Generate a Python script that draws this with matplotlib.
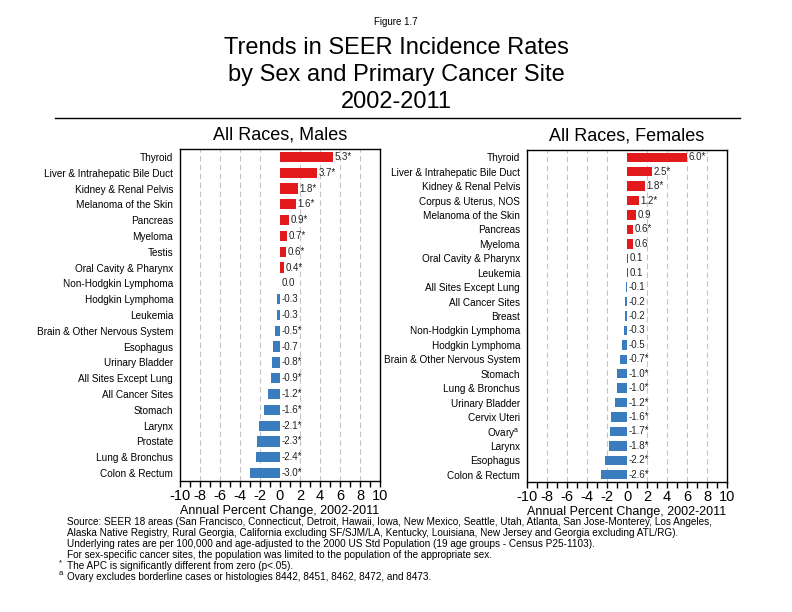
import numpy as np
import matplotlib
matplotlib.use("Agg")
import matplotlib.pyplot as plt
from matplotlib.ticker import MultipleLocator

plt.rcParams["font.family"] = ["Liberation Sans", "DejaVu Sans"]
plt.rcParams["mathtext.fontset"] = "custom"
plt.rcParams["mathtext.rm"] = "Liberation Sans"
plt.rcParams["mathtext.it"] = "Liberation Sans"
plt.rcParams["axes.unicode_minus"] = False

RED = "#e31a1c"
BLUE = "#3a7dbf"

# ── Males ──
male_sites = [
    "Thyroid", "Liver & Intrahepatic Bile Duct", "Kidney & Renal Pelvis",
    "Melanoma of the Skin", "Pancreas", "Myeloma", "Testis",
    "Oral Cavity & Pharynx", "Non-Hodgkin Lymphoma", "Hodgkin Lymphoma",
    "Leukemia", "Brain & Other Nervous System", "Esophagus",
    "Urinary Bladder", "All Sites Except Lung", "All Cancer Sites",
    "Stomach", "Larynx", "Prostate", "Lung & Bronchus", "Colon & Rectum",
]
male_apc = [5.3, 3.7, 1.8, 1.6, 0.9, 0.7, 0.6, 0.4, 0.0, -0.3, -0.3,
            -0.5, -0.7, -0.8, -0.9, -1.2, -1.6, -2.1, -2.3, -2.4, -3.0]
male_sig = [True, True, True, True, True, True, True, True, False, False,
            False, True, False, True, True, True, True, True, True, True, True]

# ── Females ──
female_sites = [
    "Thyroid", "Liver & Intrahepatic Bile Duct", "Kidney & Renal Pelvis",
    "Corpus & Uterus, NOS", "Melanoma of the Skin", "Pancreas", "Myeloma",
    "Oral Cavity & Pharynx", "Leukemia", "All Sites Except Lung",
    "All Cancer Sites", "Breast", "Non-Hodgkin Lymphoma", "Hodgkin Lymphoma",
    "Brain & Other Nervous System", "Stomach", "Lung & Bronchus",
    "Urinary Bladder", "Cervix Uteri", r"Ovary$^{\mathrm{a}}$", "Larynx",
    "Esophagus", "Colon & Rectum",
]
female_apc = [6.0, 2.5, 1.8, 1.2, 0.9, 0.6, 0.6, 0.1, 0.1, -0.1, -0.2,
              -0.2, -0.3, -0.5, -0.7, -1.0, -1.0, -1.2, -1.6, -1.7, -1.8,
              -2.2, -2.6]
female_sig = [True, True, True, True, False, True, False, False, False,
              False, False, False, False, False, True, True, True, True,
              True, True, True, True, True]

footnotes = [
    "Source: SEER 18 areas (San Francisco, Connecticut, Detroit, Hawaii, Iowa, New Mexico, Seattle, Utah, Atlanta, San Jose-Monterey, Los Angeles,",
    "Alaska Native Registry, Rural Georgia, California excluding SF/SJM/LA, Kentucky, Louisiana, New Jersey and Georgia excluding ATL/RG).",
    "Underlying rates are per 100,000 and age-adjusted to the 2000 US Std Population (19 age groups - Census P25-1103).",
    "For sex-specific cancer sites, the population was limited to the population of the appropriate sex.",
    "The APC is significantly different from zero (p<.05).",
    "Ovary excludes borderline cases or histologies 8442, 8451, 8462, 8472, and 8473.",
]
footnote_marks = ["", "", "", "", "*", "a"]


def draw_panel(ax, sites, apc, sig, title):
    n = len(sites)
    y = np.arange(n)
    vals = np.array(apc)
    colors = [RED if v > 0 else BLUE for v in vals]
    ax.barh(y, vals, height=0.65, color=colors, zorder=3)
    for yi, v, s in zip(y, vals, sig):
        lab = f"{v:.1f}" + ("*" if s else "")
        ax.text(max(v, 0) + 0.12, yi, lab, va="center", ha="left",
                fontsize=7, color="#222222", zorder=4)
    ax.set_ylim(n - 0.5, -0.5)
    ax.set_xlim(-10, 10)
    ax.set_yticks(y)
    ax.set_yticklabels(sites, fontsize=7.2)
    ax.tick_params(axis="y", length=0, pad=5)
    ax.xaxis.set_major_locator(MultipleLocator(2))
    ax.xaxis.set_minor_locator(MultipleLocator(1))
    ax.tick_params(axis="x", which="both", direction="out", length=4,
                   width=1, labelsize=10.5, pad=2)
    for gx in range(-8, 10, 2):
        if gx != 0:
            ax.axvline(gx, color="#c4c4c4", ls=(0, (5, 3)), lw=0.8, zorder=1)
    for sp in ax.spines.values():
        sp.set_linewidth(1.0)
    ax.set_xlabel("Annual Percent Change, 2002-2011", fontsize=9, labelpad=1)
    ax.set_title(title, fontsize=13, pad=7)


fig = plt.figure(figsize=(7.92, 6.12), dpi=100)

ax_m = fig.add_axes([180 / 792, 1 - 481 / 612, 200 / 792, 332 / 612])
draw_panel(ax_m, male_sites, male_apc, male_sig, "All Races, Males")

ax_f = fig.add_axes([527 / 792, 1 - 482 / 612, 200 / 792, 332 / 612])
draw_panel(ax_f, female_sites, female_apc, female_sig, "All Races, Females")

fig.text(0.5, 1 - 22 / 612, "Figure 1.7", ha="center", va="center", fontsize=7)
for i, line in enumerate(["Trends in SEER Incidence Rates",
                          "by Sex and Primary Cancer Site", "2002-2011"]):
    fig.text(0.5, 1 - (48 + 27 * i) / 612, line, ha="center", va="center",
             fontsize=17)
fig.add_artist(plt.Line2D([55 / 792, 740 / 792], [1 - 118 / 612] * 2,
                          color="black", lw=1.0))

for i, (mark, line) in enumerate(zip(footnote_marks, footnotes)):
    yy = 1 - (522 + 11 * i) / 612
    fig.text(67 / 792, yy, line, ha="left", va="center", fontsize=7.2)
    if mark:
        fig.text(59 / 792, yy + 0.005, mark, ha="left", va="center",
                 fontsize=5.5)

fig.savefig("out.png", dpi=100)
